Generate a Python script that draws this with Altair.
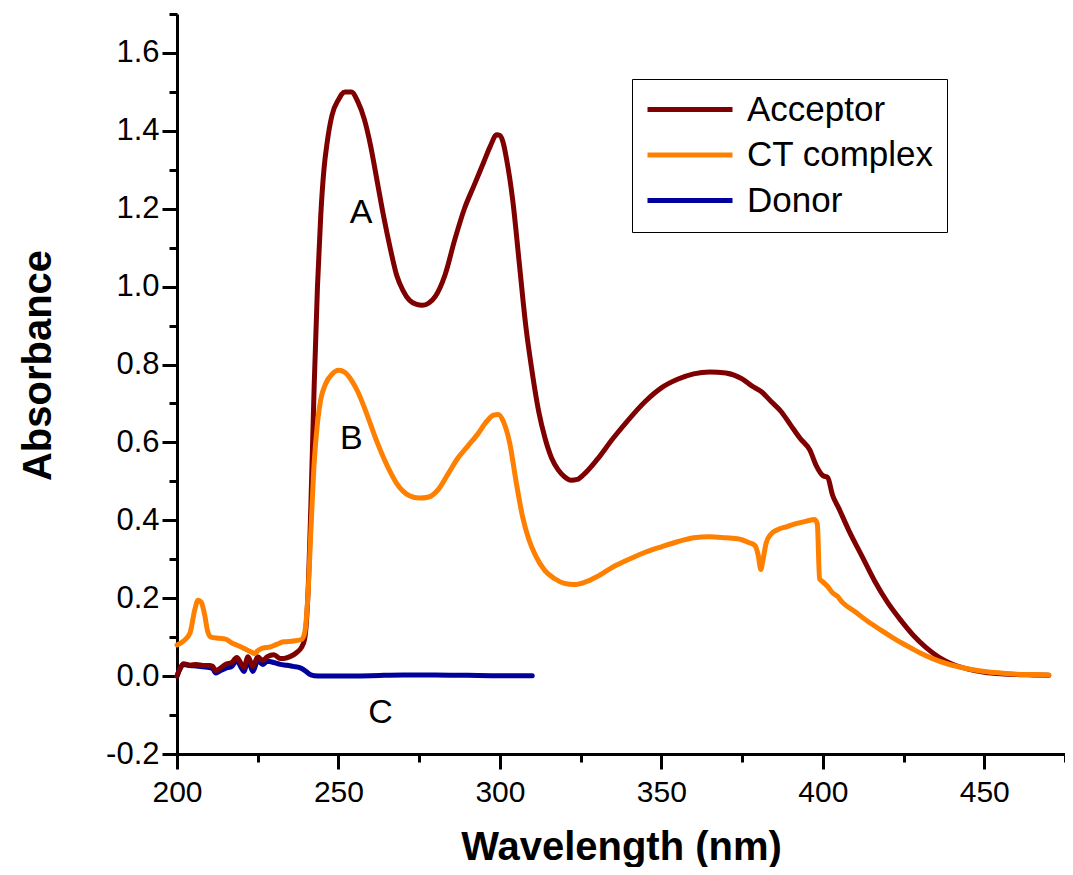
import altair as alt
import pandas as pd

# ---------------- data ----------------
acc_x = [200, 201, 202, 204, 206, 208, 210, 211, 212, 213, 215, 217, 218.5, 220, 220.7, 222, 223.5, 225,
         226.5, 228, 230, 232, 233, 235, 237, 238.5, 239.5, 240.5, 241.5, 242.5, 243.5, 244.5, 245.5, 246.5,
         248, 250, 252, 254, 256, 258, 260, 262, 264, 266, 268, 270, 272, 274, 276, 278, 280, 283, 286, 289,
         292, 295, 297, 299, 300, 301, 302, 304, 306, 308, 310, 312, 314, 316, 318, 320, 322, 324, 326, 330,
         335, 340, 345, 350, 355, 360, 365, 370, 375, 378, 381, 384, 387, 390, 393, 396, 398, 400, 401.5,
         403, 405, 408, 412, 416, 420, 424, 428, 432, 436, 440, 445, 450, 455, 460, 465, 470]
acc_y = [0.0, 0.02, 0.032, 0.028, 0.03, 0.027, 0.027, 0.025, 0.014, 0.018, 0.03, 0.035, 0.048, 0.03, 0.022,
         0.05, 0.025, 0.05, 0.04, 0.05, 0.055, 0.045, 0.045, 0.05, 0.06, 0.073, 0.094, 0.2, 0.45, 0.75, 1.0,
         1.18, 1.3, 1.37, 1.44, 1.48, 1.5, 1.5, 1.475, 1.43, 1.36, 1.27, 1.18, 1.1, 1.03, 0.99, 0.965, 0.955,
         0.952, 0.958, 0.975, 1.03, 1.12, 1.2, 1.26, 1.32, 1.36, 1.39, 1.388, 1.37, 1.33, 1.22, 1.06, 0.9,
         0.78, 0.68, 0.61, 0.56, 0.53, 0.512, 0.503, 0.505, 0.518, 0.555, 0.61, 0.66, 0.705, 0.74, 0.762,
         0.776, 0.781, 0.778, 0.763, 0.745, 0.73, 0.705, 0.68, 0.645, 0.61, 0.58, 0.54, 0.515, 0.51, 0.465,
         0.43, 0.375, 0.31, 0.245, 0.19, 0.145, 0.105, 0.073, 0.048, 0.031, 0.018, 0.01, 0.006, 0.004, 0.003,
         0.002]

ct_x = [200, 202, 204, 205.5, 206.5, 207.5, 208.5, 209.5, 210.5, 213, 215, 217, 219, 221, 223, 224, 225,
        226.5, 229, 231, 233, 236, 238.5, 239.5, 240.5, 241.5, 242.5, 243.5, 244.5, 246, 248, 250, 252, 254,
        256, 258, 260, 262, 264, 266, 268, 270, 272, 275, 278, 281, 284, 287, 290, 293, 296, 298, 299.5, 301,
        303, 305, 307, 309, 311, 314, 317, 320, 323, 326, 330, 335, 340, 345, 350, 355, 360, 365, 370, 374,
        377, 379, 380, 380.8, 381.5, 382.5, 384, 386, 389, 392, 395, 397.5, 398.3, 399, 400, 401.5, 403,
        404.5, 406, 410, 414, 418, 422, 426, 430, 434, 438, 442, 446, 450, 455, 460, 465, 470]
ct_y = [0.08, 0.09, 0.11, 0.17, 0.195, 0.19, 0.16, 0.115, 0.1, 0.097, 0.095, 0.085, 0.078, 0.07, 0.062,
        0.058, 0.065, 0.072, 0.075, 0.082, 0.088, 0.09, 0.094, 0.11, 0.2, 0.38, 0.55, 0.65, 0.71, 0.75, 0.775,
        0.785, 0.78, 0.76, 0.73, 0.69, 0.645, 0.6, 0.56, 0.525, 0.495, 0.475, 0.463, 0.457, 0.46, 0.48, 0.52,
        0.56, 0.59, 0.62, 0.655, 0.67, 0.672, 0.655, 0.6, 0.5, 0.41, 0.35, 0.31, 0.27, 0.25, 0.238, 0.235,
        0.24, 0.255, 0.28, 0.3, 0.318, 0.332, 0.345, 0.355, 0.358, 0.355, 0.352, 0.343, 0.335, 0.31, 0.274,
        0.3, 0.343, 0.365, 0.376, 0.384, 0.392, 0.398, 0.402, 0.39, 0.25, 0.242, 0.23, 0.214, 0.205, 0.19,
        0.165, 0.14, 0.118, 0.097, 0.078, 0.06, 0.045, 0.033, 0.024, 0.017, 0.012, 0.008, 0.005, 0.004, 0.003]

don_x = [200, 201, 202, 204, 206, 208, 210, 211, 212, 213, 215, 217, 218.5, 220, 220.7, 222, 223.5, 225,
         226.5, 228, 230, 232, 234, 236, 238, 240, 241, 242.5, 245, 250, 260, 270, 280, 290, 300, 310]
don_y = [0.0, 0.02, 0.03, 0.027, 0.026, 0.024, 0.022, 0.02, 0.008, 0.012, 0.02, 0.025, 0.04, 0.02, 0.012,
         0.04, 0.012, 0.04, 0.03, 0.038, 0.035, 0.03, 0.028, 0.025, 0.022, 0.012, 0.005, 0.001, 0.0, 0.0,
         0.001, 0.003, 0.003, 0.002, 0.001, 0.001]

series_names = ["Acceptor", "CT complex", "Donor"]
series_colors = ["#7F0000", "#FF8000", "#00009C"]

x_major = [200, 250, 300, 350, 400, 450]
x_minor = [225, 275, 325, 375, 425, 475]
y_major = [-0.2, 0.0, 0.2, 0.4, 0.6, 0.8, 1.0, 1.2, 1.4, 1.6]
y_minor = [-0.1, 0.1, 0.3, 0.5, 0.7, 0.9, 1.1, 1.3, 1.5, 1.7]

ann_text = ["A", "B", "C"]
ann_x = [257, 254, 263]
ann_y = [1.19, 0.61, -0.095]

# ---------------- tables ----------------
df = pd.concat([
    pd.DataFrame({"wl": acc_x, "abs": acc_y, "series": "Acceptor"}),
    pd.DataFrame({"wl": ct_x, "abs": ct_y, "series": "CT complex"}),
    pd.DataFrame({"wl": don_x, "abs": don_y, "series": "Donor"}),
], ignore_index=True)
ann_df = pd.DataFrame({"wl": ann_x, "abs": ann_y, "label": ann_text})
minor_df = pd.DataFrame({"wl": x_minor, "abs": y_minor[:len(x_minor)]})

FONT = "Liberation Sans, Arial"

x_scale = alt.Scale(domain=[200, 475], nice=False, zero=False)
y_scale = alt.Scale(domain=[-0.2, 1.7], nice=False, zero=False)

x_axis_major = alt.Axis(
    orient="bottom", values=x_major, format="d", grid=False,
    domainColor="black", domainWidth=3, tickColor="black", tickWidth=3, tickSize=15,
    labelFont=FONT, labelFontSize=30, labelColor="black", labelPadding=8, labelFlush=False,
    title="Wavelength (nm)", titleFont=FONT, titleFontSize=40, titleFontWeight="bold",
    titleColor="black", titleX=444, titleY=105, titleBaseline="alphabetic", titleAlign="center",
)
y_axis_major = alt.Axis(
    orient="left", values=y_major, format=".1f", grid=False,
    labelExpr="replace(format(datum.value, '.1f'), '\u2212', '-')",
    domainColor="black", domainWidth=3, tickColor="black", tickWidth=3, tickSize=15,
    labelFont=FONT, labelFontSize=31, labelColor="black", labelPadding=3, labelFlush=False,
    title="Absorbance", titleFont=FONT, titleFontSize=40, titleFontWeight="bold",
    titleColor="black", titleX=-127, titleY=351, titleBaseline="alphabetic", titleAlign="center",
    titleAngle=270,
)
x_axis_minor = alt.Axis(orient="bottom", values=x_minor, grid=False, labels=False, domain=False,
                        tickColor="black", tickWidth=3, tickSize=8, title="")
y_axis_minor = alt.Axis(orient="left", values=y_minor, grid=False, labels=False, domain=False,
                        tickColor="black", tickWidth=3, tickSize=8, title="")

color = alt.Color(
    "series:N",
    scale=alt.Scale(domain=series_names, range=series_colors),
    legend=alt.Legend(
        title=None, orient="none", legendX=455, legendY=65,
        symbolType="stroke", symbolSize=7225, symbolStrokeWidth=5, clipHeight=35,
        rowPadding=9.5, labelOffset=12, padding=13,
        labelFont=FONT, labelFontSize=35, labelColor="black", labelLimit=0,
        strokeColor="black", fillColor="white",
    ),
)

minor_layer = alt.Chart(minor_df).mark_point(opacity=0).encode(
    x=alt.X("wl:Q", scale=x_scale, axis=x_axis_minor),
    y=alt.Y("abs:Q", scale=y_scale, axis=y_axis_minor),
)


def line_layer(name, with_axes):
    return alt.Chart(df).transform_filter(alt.datum.series == name).mark_line(
        strokeWidth=5, interpolate="monotone", strokeJoin="round", strokeCap="round"
    ).encode(
        x=alt.X("wl:Q", scale=x_scale, axis=x_axis_major if with_axes else None),
        y=alt.Y("abs:Q", scale=y_scale, axis=y_axis_major if with_axes else None),
        color=color,
        order="wl:Q",
    )


text_layer = alt.Chart(ann_df).mark_text(
    font=FONT, fontSize=34, color="black", align="center", baseline="middle"
).encode(
    x=alt.X("wl:Q", scale=x_scale, axis=None),
    y=alt.Y("abs:Q", scale=y_scale, axis=None),
    text="label:N",
)

chart = alt.layer(
    minor_layer,
    line_layer("Donor", True),
    line_layer("Acceptor", False),
    line_layer("CT complex", False),
    text_layer,
).resolve_axis(
    x="independent", y="independent"
).resolve_scale(
    x="shared", y="shared"
).properties(
    width=888, height=740,
    padding={"left": 169, "top": 6, "right": 0, "bottom": 113},
    autosize=alt.AutoSizeParams(type="none"),
    background="white",
).configure_view(strokeWidth=0)

chart.save("out.html", embed_options={"renderer": "svg", "actions": False})
